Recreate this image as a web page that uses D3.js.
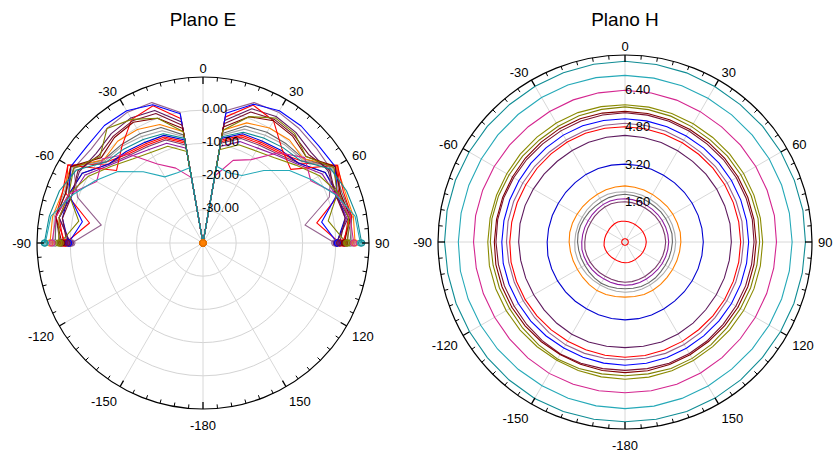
<!DOCTYPE html>
<html><head><meta charset="utf-8">
<script src="https://cdn.jsdelivr.net/npm/d3@7"></script>
<style>
body{margin:0;background:#fff}
svg{display:block}
text{font-family:"Liberation Sans",Arial,sans-serif;fill:#000}
</style></head>
<body><svg id="chart" width="836" height="454"></svg>
<script>
// ---------- data ----------
const titles = ["Plano E", "Plano H"];
const angleTicks = [0, 30, 60, 90, 120, 150, 180, 210, 240, 270, 300, 330];
const angleTickLabels = ["0", "30", "60", "90", "120", "150", "-180", "-150", "-120", "-90", "-60", "-30"];
const eRadialTicks = [-30, -20, -10, 0];
const eRadialLabels = ["-30.00", "-20.00", "-10.00", "0.00"];
const hRadialTicks = [1.6, 3.2, 4.8, 6.4];
const hRadialLabels = ["1.60", "3.20", "4.80", "6.40"];

const seriesColors = ["#FF0000", "#FF0000", "#7B3B6B", "#8E1AA0", "#666666", "#AAAAAA", "#FF8000",
  "#0000D0", "#5E1A5E", "#FF0000", "#94628E", "#0000FF", "#7A1030", "#800000", "#808000",
  "#8A8A00", "#D4258F", "#25A9B8", "#0F8C94"];

// E-plane (dB), angles -90..90 step 10
const eAngles = [-90, -80, -70, -60, -50, -40, -30, -20, -10, 0, 10, 20, 30, 40, 50, 60, 70, 80, 90];
const eData = [
  [2, 4, 3, 6, -2, -5, -6, -6.5, -9.5, -40, -9, -6, -5.5, -4.5, -1.5, 6.5, 3.5, 4.5, 2.5],
  [1.5, -5.3, 4, 7, -3, -4.5, -5.5, -6, -9, -40, -8.5, -5.5, -5, -4, -2.5, 6.8, 4, -5.2, 1.2],
  [3, 5, 3, 2, -3, -5.5, -6.5, -7, -10, -40, -9.5, -6.5, -6, -5, -2.5, 2.5, 3.5, 5.5, 3.2],
  [0, 4, 2, 1, -3.5, -6, -7.5, -8, -11, -40, -10.5, -7.5, -7, -5.5, -3, 1.5, 2.5, 4, 0.3],
  [4.5, 5, 4, 5, -1, -1.5, -2, -3, -7, -40, -6.5, -2.5, -1.5, -1, -0.5, 5.5, 4.5, 5.5, 4.3],
  [5, 5.5, 4.5, 5.5, -1.5, -2, -3, -4, -7.5, -40, -7, -3.5, -2.5, -1.5, -1, 5, 4, 5, 4.8],
  [6.1, 6, 5, 6, -1, 0, -0.5, -2, -6, -40, -5.5, -1.5, 0, 0.5, -0.5, 6.5, 5.5, 6, 5.8],
  [0.5, 3, 3, 2, -3, -4, -5, -5.5, -8.5, -40, -8, -5, -4.5, -3.5, -2.5, 2.5, 3, 3.5, 0.3],
  [0, 4, 2, 3, 2, 3, 3.5, 2.5, -3, -40, -2.5, 3, 4, 3.5, 2.5, 3.5, 2.5, 4.5, 0.2],
  [1.5, 5, 5, 7, -6, -2, 3, 4, -2, -40, -1.5, 4.2, 2.5, -3, -5.5, 6.8, 5, 5.5, 2],
  [-0.5, -8.9, 0.2, 5, 4, 5, 5.5, 5, 0, -40, 0.5, 5, 5.5, 5, 4.5, 4.5, 0.5, -8.8, -0.3],
  [0.5, -3.1, 3, 6, 5.5, 6.2, 6, 4.3, -0.5, -40, -0.3, 4.5, 6, 6, 5.5, 6, 3, -3.7, 0.5],
  [1, 3, 2, 3.5, 1, 2, 2.5, 1.5, -4, -40, -3.5, 2, 3, 2.5, 1.5, 4, 2.5, 3.5, 1.2],
  [2.5, 5, 4, 6, 0, 1.5, 2, 0, -5, -40, -4.5, 0.5, 2.5, 2, 0.5, 6, 4, 5, 2.6],
  [3, -2, 3, 5, 0.5, 5, 3, 0, -6, -40, -5.5, 0.5, 3.5, 3, 0.5, 5.5, 3, -1.7, 3.2],
  [3.5, 4, 3, 0, -4, -7, -8.5, -9, -12, -40, -11.5, -8.5, -8, -6.5, -3.5, 0.5, 3.5, 4.5, 3.6],
  [5.5, 5, 3, -3, -0.5, -5, -12.5, -16, -20, -40, -19.5, -13.5, -11, -4.5, 0, -2.5, 3, 5, 5.4],
  [7.5, 6.5, 2, -2.5, -6.5, -12, -17, -17.5, -17, -40, -16.5, -17.5, -16.5, -11.5, -6, -2, 2.5, 6.5, 7.4],
  [7.8, 7, 6, 4, -2, -3, -4, -5, -8, -40, -7.5, -4.5, -3.5, -2.5, -1.5, 4.5, 6, 7, 7.8]
];

// H-plane (linear), angles -180..170 step 10 (closed curves)
const hAngles = [-180, -170, -160, -150, -140, -130, -120, -110, -100, -90, -80, -70, -60, -50, -40, -30, -20, -10,
  0, 10, 20, 30, 40, 50, 60, 70, 80, 90, 100, 110, 120, 130, 140, 150, 160, 170];
const hData = [
  [0.14, 0.14, 0.14, 0.14, 0.14, 0.14, 0.14, 0.14, 0.14, 0.14, 0.14, 0.14, 0.14, 0.14, 0.14, 0.14, 0.14, 0.14, 0.14, 0.14, 0.14, 0.14, 0.14, 0.14, 0.14, 0.14, 0.14, 0.14, 0.14, 0.14, 0.14, 0.14, 0.14, 0.14, 0.14, 0.14],
  [0.89, 0.88, 0.87, 0.86, 0.87, 0.88, 0.89, 0.90, 0.91, 0.89, 0.88, 0.87, 0.86, 0.87, 0.88, 0.90, 0.91, 0.90, 0.89, 0.88, 0.87, 0.86, 0.86, 0.87, 0.88, 0.89, 0.90, 0.91, 0.90, 0.89, 0.88, 0.87, 0.86, 0.87, 0.88, 0.89],
  [1.72, 1.71, 1.70, 1.69, 1.70, 1.71, 1.72, 1.73, 1.74, 1.72, 1.71, 1.70, 1.69, 1.70, 1.71, 1.73, 1.74, 1.73, 1.72, 1.71, 1.70, 1.69, 1.69, 1.70, 1.71, 1.72, 1.73, 1.74, 1.73, 1.72, 1.71, 1.70, 1.69, 1.70, 1.71, 1.72],
  [1.85, 1.84, 1.83, 1.82, 1.83, 1.84, 1.85, 1.86, 1.87, 1.85, 1.84, 1.83, 1.82, 1.83, 1.84, 1.86, 1.87, 1.86, 1.85, 1.84, 1.83, 1.82, 1.82, 1.83, 1.84, 1.85, 1.86, 1.87, 1.86, 1.85, 1.84, 1.83, 1.82, 1.83, 1.84, 1.85],
  [2.00, 2.01, 2.03, 2.04, 2.02, 2.00, 1.99, 2.00, 2.01, 2.03, 2.04, 2.03, 2.01, 2.00, 1.99, 2.00, 2.02, 2.03, 2.04, 2.02, 2.01, 1.99, 1.98, 2.00, 2.01, 2.02, 2.04, 2.03, 2.01, 2.00, 1.99, 1.99, 2.01, 2.02, 2.03, 2.01],
  [2.15, 2.14, 2.13, 2.12, 2.13, 2.14, 2.15, 2.16, 2.17, 2.15, 2.14, 2.13, 2.12, 2.13, 2.14, 2.16, 2.17, 2.16, 2.15, 2.14, 2.13, 2.12, 2.12, 2.13, 2.14, 2.15, 2.16, 2.17, 2.16, 2.15, 2.14, 2.13, 2.12, 2.13, 2.14, 2.15],
  [2.36, 2.37, 2.39, 2.40, 2.38, 2.36, 2.35, 2.36, 2.37, 2.39, 2.40, 2.39, 2.37, 2.36, 2.35, 2.36, 2.38, 2.39, 2.40, 2.38, 2.37, 2.35, 2.34, 2.36, 2.37, 2.38, 2.40, 2.39, 2.37, 2.36, 2.35, 2.35, 2.37, 2.38, 2.39, 2.37],
  [3.33, 3.32, 3.31, 3.30, 3.31, 3.32, 3.33, 3.34, 3.35, 3.33, 3.32, 3.31, 3.30, 3.31, 3.32, 3.34, 3.35, 3.34, 3.33, 3.32, 3.31, 3.30, 3.30, 3.31, 3.32, 3.33, 3.34, 3.35, 3.34, 3.33, 3.32, 3.31, 3.30, 3.31, 3.32, 3.33],
  [4.52, 4.53, 4.55, 4.56, 4.54, 4.52, 4.51, 4.52, 4.53, 4.55, 4.56, 4.55, 4.53, 4.52, 4.51, 4.52, 4.54, 4.55, 4.56, 4.54, 4.53, 4.51, 4.50, 4.52, 4.53, 4.54, 4.56, 4.55, 4.53, 4.52, 4.51, 4.51, 4.53, 4.54, 4.55, 4.53],
  [4.93, 4.92, 4.91, 4.90, 4.91, 4.92, 4.93, 4.94, 4.95, 4.93, 4.92, 4.91, 4.90, 4.91, 4.92, 4.94, 4.95, 4.94, 4.93, 4.92, 4.91, 4.90, 4.90, 4.91, 4.92, 4.93, 4.94, 4.95, 4.94, 4.93, 4.92, 4.91, 4.90, 4.91, 4.92, 4.93],
  [5.04, 5.05, 5.07, 5.08, 5.06, 5.04, 5.03, 5.04, 5.05, 5.07, 5.08, 5.07, 5.05, 5.04, 5.03, 5.04, 5.06, 5.07, 5.08, 5.06, 5.05, 5.03, 5.02, 5.04, 5.05, 5.06, 5.08, 5.07, 5.05, 5.04, 5.03, 5.03, 5.05, 5.06, 5.07, 5.05],
  [5.27, 5.26, 5.25, 5.24, 5.25, 5.26, 5.27, 5.28, 5.29, 5.27, 5.26, 5.25, 5.24, 5.25, 5.26, 5.28, 5.29, 5.28, 5.27, 5.26, 5.25, 5.24, 5.24, 5.25, 5.26, 5.27, 5.28, 5.29, 5.28, 5.27, 5.26, 5.25, 5.24, 5.25, 5.26, 5.27],
  [5.49, 5.50, 5.52, 5.53, 5.51, 5.49, 5.48, 5.49, 5.50, 5.52, 5.53, 5.52, 5.50, 5.49, 5.48, 5.49, 5.51, 5.52, 5.53, 5.51, 5.50, 5.48, 5.47, 5.49, 5.50, 5.51, 5.53, 5.52, 5.50, 5.49, 5.48, 5.48, 5.50, 5.51, 5.52, 5.50],
  [5.59, 5.58, 5.57, 5.56, 5.57, 5.58, 5.59, 5.60, 5.61, 5.59, 5.58, 5.57, 5.56, 5.57, 5.58, 5.60, 5.61, 5.60, 5.59, 5.58, 5.57, 5.56, 5.56, 5.57, 5.58, 5.59, 5.60, 5.61, 5.60, 5.59, 5.58, 5.57, 5.56, 5.57, 5.58, 5.59],
  [5.72, 5.73, 5.76, 5.78, 5.75, 5.72, 5.70, 5.72, 5.73, 5.76, 5.78, 5.76, 5.73, 5.72, 5.70, 5.72, 5.75, 5.76, 5.78, 5.75, 5.73, 5.70, 5.69, 5.72, 5.73, 5.75, 5.78, 5.76, 5.73, 5.72, 5.70, 5.70, 5.73, 5.75, 5.76, 5.73],
  [5.87, 5.86, 5.85, 5.84, 5.85, 5.86, 5.87, 5.88, 5.89, 5.87, 5.86, 5.85, 5.84, 5.85, 5.86, 5.88, 5.89, 5.88, 5.87, 5.86, 5.85, 5.84, 5.84, 5.85, 5.86, 5.87, 5.88, 5.89, 5.88, 5.87, 5.86, 5.85, 5.84, 5.85, 5.86, 5.87],
  [6.45, 6.46, 6.48, 6.49, 6.47, 6.45, 6.44, 6.45, 6.46, 6.48, 6.49, 6.48, 6.46, 6.45, 6.44, 6.45, 6.47, 6.48, 6.49, 6.47, 6.46, 6.44, 6.43, 6.45, 6.46, 6.47, 6.49, 6.48, 6.46, 6.45, 6.44, 6.44, 6.46, 6.47, 6.48, 6.46],
  [7.13, 7.12, 7.11, 7.10, 7.11, 7.12, 7.13, 7.14, 7.15, 7.13, 7.12, 7.11, 7.10, 7.11, 7.12, 7.14, 7.15, 7.14, 7.13, 7.12, 7.11, 7.10, 7.10, 7.11, 7.12, 7.13, 7.14, 7.15, 7.14, 7.13, 7.12, 7.11, 7.10, 7.11, 7.12, 7.13],
  [7.69, 7.70, 7.72, 7.73, 7.71, 7.69, 7.68, 7.69, 7.70, 7.72, 7.73, 7.72, 7.70, 7.69, 7.68, 7.69, 7.71, 7.72, 7.73, 7.71, 7.70, 7.68, 7.67, 7.69, 7.70, 7.71, 7.73, 7.72, 7.70, 7.69, 7.68, 7.68, 7.70, 7.71, 7.72, 7.70]
];

// ---------- drawing ----------
const svg = d3.select("#chart");
const rad = a => a * Math.PI / 180;

function frame(g, R, r, gridCircles) {
  g.selectAll("circle.grid").data(gridCircles).join("circle")
    .attr("r", d => r(d)).attr("fill", "none").attr("stroke", "#d4d4d4").attr("stroke-width", 1);
  g.selectAll("line.spoke").data(angleTicks).join("line")
    .attr("x1", 0).attr("y1", 0)
    .attr("x2", d => R * Math.sin(rad(d))).attr("y2", d => -R * Math.cos(rad(d)))
    .attr("stroke", "#d8d8d8").attr("stroke-width", 1);
}

function axisRing(g, R) {
  g.append("circle").attr("r", R).attr("fill", "none").attr("stroke", "#000").attr("stroke-width", 1.2);
  const tickAngles = d3.range(0, 360, 5);
  g.selectAll("line.tick").data(tickAngles).join("line")
    .attr("x1", d => R * Math.sin(rad(d))).attr("y1", d => -R * Math.cos(rad(d)))
    .attr("x2", d => (R - (d % 30 === 0 ? 7 : 4)) * Math.sin(rad(d)))
    .attr("y2", d => -(R - (d % 30 === 0 ? 7 : 4)) * Math.cos(rad(d)))
    .attr("stroke", "#000").attr("stroke-width", d => d % 30 === 0 ? 1.3 : 1);
  g.selectAll("text.ang").data(angleTicks).join("text")
    .attr("font-size", 13)
    .attr("text-anchor", d => { const s = Math.sin(rad(d)); return s > 0.05 ? "start" : (s < -0.05 ? "end" : "middle"); })
    .attr("dominant-baseline", "central")
    .attr("x", d => (R + 6) * Math.sin(rad(d)))
    .attr("y", d => { const c = Math.cos(rad(d)); return -(R + 6) * c + (c > 0.01 ? -3 * c : (c < -0.01 ? 10 * Math.sqrt(-c) : 0)); })
    .text((d, i) => angleTickLabels[i]);
}

// ---- Plano E ----
const gE = svg.append("g").attr("transform", "translate(203,243)");
const RE = 166;
const rE = d3.scaleLinear().domain([-40, 10]).range([0, RE]).clamp(true);
frame(gE, RE, rE, eRadialTicks);
const lineE = d3.lineRadial().angle(d => rad(d[0])).radius(d => rE(d[1]));
eData.forEach((vals, i) => {
  const pts = eAngles.map((a, j) => [a, vals[j]]);
  gE.append("path").attr("d", lineE(pts)).attr("fill", "none")
    .attr("stroke", seriesColors[i]).attr("stroke-width", 1.1).attr("stroke-linejoin", "round");
});
eData.forEach((vals, i) => {
  [0, eAngles.length - 1].forEach(j => {
    const a = rad(eAngles[j]), rr = rE(vals[j]);
    gE.append("circle").attr("cx", rr * Math.sin(a)).attr("cy", -rr * Math.cos(a)).attr("r", 3.2)
      .attr("fill", seriesColors[i]).attr("fill-opacity", 0.35).attr("stroke", seriesColors[i]).attr("stroke-width", 1);
  });
});
eData.forEach((vals) => {
  const rr = rE(vals[eAngles.indexOf(0)]);
  gE.append("circle").attr("cx", 0).attr("cy", -rr).attr("r", 3.2)
    .attr("fill", "#FF8000").attr("fill-opacity", 0.6).attr("stroke", "#E07000").attr("stroke-width", 1);
});
axisRing(gE, RE);
gE.selectAll("text.rl").data(eRadialTicks).join("text")
  .attr("font-size", 13).attr("x", -1).attr("y", d => -rE(d) - 2)
  .attr("dominant-baseline", "central").text((d, i) => eRadialLabels[i]);

// ---- Plano H ----
const gH = svg.append("g").attr("transform", "translate(625,242)");
const RH = 187;
const rH = d3.scaleLinear().domain([0, 8]).range([0, RH]);
frame(gH, RH, rH, []);
const lineH = d3.lineRadial().angle(d => rad(d[0])).radius(d => rH(d[1])).curve(d3.curveLinearClosed);
hData.forEach((vals, i) => {
  const pts = hAngles.map((a, j) => [a, vals[j]]);
  gH.append("path").attr("d", lineH(pts)).attr("fill", "none")
    .attr("stroke", seriesColors[i]).attr("stroke-width", 1.1);
});
axisRing(gH, RH);
gH.selectAll("text.rl").data(hRadialTicks).join("text")
  .attr("font-size", 13).attr("x", 0).attr("y", d => -rH(d) - 3)
  .attr("dominant-baseline", "central").text((d, i) => hRadialLabels[i]);

// titles
svg.selectAll("text.title").data(titles).join("text")
  .attr("x", (d, i) => i === 0 ? 203 : 625).attr("y", 26)
  .attr("text-anchor", "middle").attr("font-size", 19).text(d => d);
</script>
</body></html>
